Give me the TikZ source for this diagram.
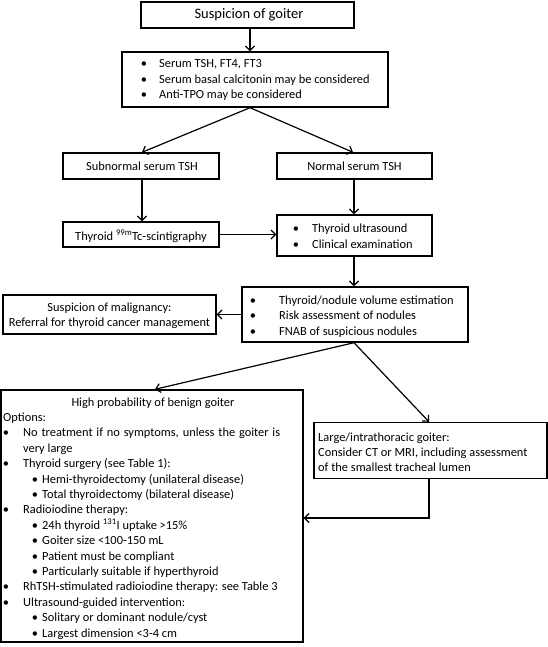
\documentclass[tikz,border=0pt]{standalone}
\usepackage{fontspec}
\setmainfont{Carlito}
\usetikzlibrary{arrows.meta}
\begin{document}
\begin{tikzpicture}[x=1pt,y=-1pt,
  box/.style={draw,line width=1.4pt,inner sep=0pt},
  arr/.style={line width=1.2pt,-{Straight Barb[length=4.5pt,width=9pt,line width=1.2pt]}},
  txt/.style={inner sep=0pt,font=\fontsize{12.4}{15}\selectfont},
  bt/.style={txt,anchor=base west},
  bc/.style={txt,anchor=base},
  bul/.style={txt,anchor=base}]
\useasboundingbox (0,0) rectangle (548,647);
% boxes
\node[box,minimum width=213pt,minimum height=26pt] (b1) at (247.5,15) {};
\node[box,minimum width=266pt,minimum height=55pt] (b2) at (255,79.5) {};
\node[box,minimum width=156pt,minimum height=26pt] (sub) at (141,166) {};
\node[box,minimum width=155pt,minimum height=26pt] (norm) at (354.5,166) {};
\node[box,minimum width=156pt,minimum height=25pt] (scint) at (141,234.5) {};
\node[box,minimum width=155pt,minimum height=41pt] (us) at (354.5,235.5) {};
\node[box,minimum width=226pt,minimum height=55pt] (b3) at (355,314.5) {};
\node[box,minimum width=213pt,minimum height=39pt] (mal) at (109.5,314.5) {};
\node[box,minimum width=302pt,minimum height=252pt] (ben) at (152,516) {};
\node[box,minimum width=233pt,minimum height=56pt] (large) at (430.5,450.5) {};
% texts
\node[txt,font=\fontsize{14.5}{17}\selectfont] (t1) at (249,15) {Suspicion of goiter};
\foreach \y/\t [count=\i] in {68/{Serum TSH, FT4, FT3},83.5/{Serum basal calcitonin may be considered},99/{Anti-TPO may be considered}}{
  \node[bul] (b2b\i) at (144,\y) {•};
  \node[bt] (b2t\i) at (159,\y) {\t};}
\node[bc] (tsub) at (142,171) {Subnormal serum TSH};
\node[bc] (tnorm) at (354.5,171) {Normal serum TSH};
\node[bc] (tscint) at (141,240) {Thyroid \textsuperscript{99m}Tc-scintigraphy};
\foreach \y/\t [count=\i] in {232.5/{Thyroid ultrasound},248/{Clinical examination}}{
  \node[bul] (usb\i) at (296,\y) {•};
  \node[bt] (ust\i) at (312,\y) {\t};}
\foreach \y/\t [count=\i] in {304/{Thyroid/nodule volume estimation},319.5/{Risk assessment of nodules},335/{FNAB of suspicious nodules}}{
  \node[bul] (b3b\i) at (253,\y) {•};
  \node[bt] (b3t\i) at (279,\y) {\t};}
\node[bc] (mal1) at (109.5,311) {Suspicion of malignancy:};
\node[bc] (mal2) at (109.5,326) {Referral for thyroid cancer management};
\node[bt] (lg1) at (318,441) {Large/intrathoracic goiter:};
\node[bt] (lg2) at (318,456) {Consider CT or MRI, including assessment};
\node[bt] (lg3) at (318,471) {of the smallest tracheal lumen};
% benign box
\node[bc] (bh) at (153,406) {High probability of benign goiter};
\node[bt] (bo) at (3,421.4) {Options:};
\foreach \y/\t [count=\i] in {436.8/{\makebox[257pt][s]{No treatment if no symptoms, unless the goiter is}},467.6/{Thyroid surgery (see Table 1):},513.8/{Radioiodine therapy:},590.8/{RhTSH-stimulated radioiodine therapy: see Table 3},606.2/{Ultrasound-guided intervention:}}{
  \node[bul] (mb\i) at (6,\y) {•};
  \node[bt] (mt\i) at (23,\y) {\t};}
\node[bt] (mvl) at (23,452.2) {very large};
\foreach \y/\t [count=\i] in {483/{Hemi-thyroidectomy (unilateral disease)},498.4/{Total thyroidectomy (bilateral disease)},529.2/{24h thyroid \textsuperscript{131}I uptake >15\%},544.6/{Goiter size <100-150 mL},560/{Patient must be compliant},575.4/{Particularly suitable if hyperthyroid},621.6/{Solitary or dominant nodule/cyst},637/{Largest dimension <3-4 cm}}{
  \node[bul] (sb\i) at (35,\y) {•};
  \node[bt] (st\i) at (42,\y) {\t};}
% connectors
\coordinate (split) at (b2.south -| 250,0);
\draw[arr] (b1.south -| 250,0) -- (b2.north -| 250,0);
\draw[arr] (split) -- (sub.north -| 142,0);
\draw[arr] (split) -- (norm.north -| 353,0);
\draw[arr] (sub.south -| 142,0) -- (scint.north -| 142,0);
\draw[arr] (norm.south -| 354,0) -- (us.north -| 354,0);
\draw[arr] (scint.east) -- (scint.east -| us.west);
\draw[arr] (us.south -| 354,0) -- (b3.north -| 354,0);
\draw[arr] (b3.west) -- (b3.west -| mal.east);
\coordinate (split2) at (b3.south -| 354,0);
\draw[arr] (split2) -- (ben.north -| 155,0);
\draw[arr] (split2) -- (large.north -| 429,0);
\draw[arr] (large.south -| 429,0) |- (ben.east |- 0,518);
\end{tikzpicture}
\end{document}
